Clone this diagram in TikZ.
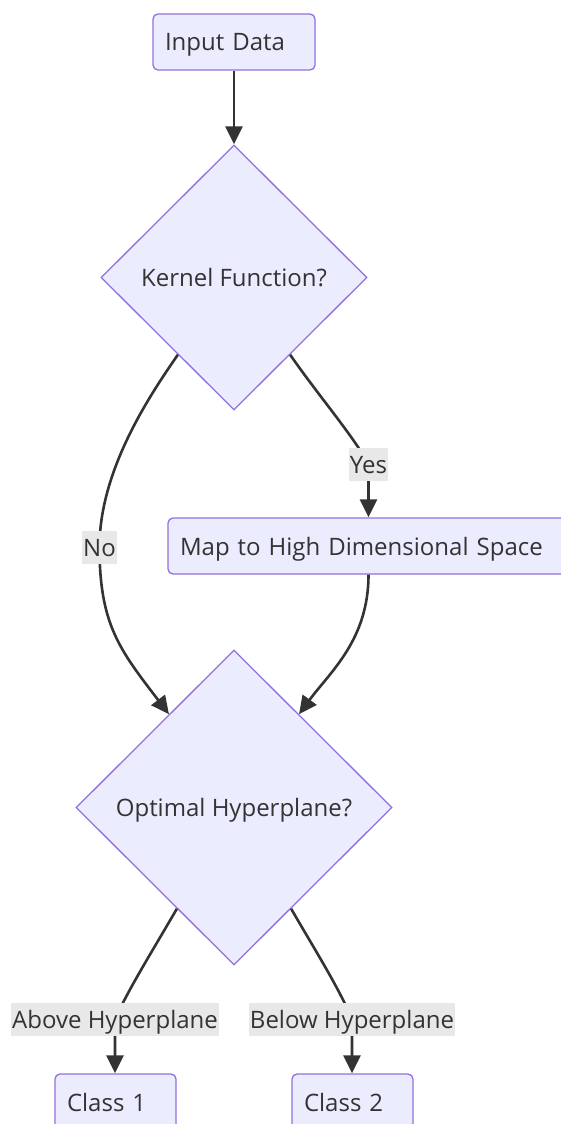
\documentclass[tikz,border=0pt]{standalone}
\usepackage{fontspec}
\setmainfont{Open Sans}
\usetikzlibrary{shapes.geometric,arrows.meta,calc}
\definecolor{nodefill}{HTML}{ECECFF}
\definecolor{nodeline}{HTML}{9370DB}
\definecolor{ink}{HTML}{333333}
\definecolor{lblbg}{HTML}{E8E8E8}

\begin{document}
\begin{tikzpicture}[x=1pt,y=-1pt,
  every node/.style={font=\fontsize{24}{29}\selectfont, text=ink, text height=22pt, text depth=4pt},
  procbox/.style={draw=nodeline, fill=nodefill, line width=1.3pt, rounded corners=5pt,
                  minimum height=56pt, inner xsep=12pt, inner ysep=0pt, align=left},
  decision/.style={diamond, draw=nodeline, fill=nodefill, line width=1.3pt, inner sep=0pt},
  edgelbl/.style={fill=lblbg, inner xsep=1pt, inner ysep=0pt, minimum height=33pt},
  flow/.style={draw=ink, line width=2.6pt, -{Triangle[length=18pt,width=17pt]}}
]
\useasboundingbox (0,0) rectangle (560,1124);

% process boxes
\node[procbox, text width=138pt] (input) at (234,42) {Input Data};
\node[procbox, text width=390pt] (map) at (375,546) {Map to High Dimensional Space};
\node[procbox, text width=97pt] (c1) at (115.5,1102) {Class 1};
\node[procbox, text width=97pt] (c2) at (352.5,1102) {Class 2};

% decisions
\node[decision, minimum width=266pt, minimum height=265pt] (kern) at (234,277.5) {Kernel Function?};
\node[decision, minimum width=316pt, minimum height=315pt] (opt) at (234,807.5) {Optimal Hyperplane?};

% label anchors on the connectors
\coordinate (noc) at (99.5,547);
\coordinate (yesc) at (368.5,464.5);
\coordinate (abovec) at (115,1019.5);
\coordinate (belowc) at (352,1019.5);

% connectors
\draw[flow] (input.south) -- (kern.north);
\draw[flow] ($(kern.west)!0.58!(kern.south)$) .. controls (150,395) and (99.5,470) .. (noc)
            .. controls (99.5,625) and (120,650) .. ($(opt.north)!0.41!(opt.west)$);
\draw[flow] ($(kern.east)!0.58!(kern.south)$) .. controls (318,395) and (355,438) .. (yesc)
            .. controls (368.5,490) .. (yesc |- map.north);
\draw[flow] (yesc |- map.south) .. controls (368.5,640) and (330,672) .. ($(opt.north)!0.41!(opt.east)$);
\draw[flow] ($(opt.west)!0.64!(opt.south)$) .. controls (150,955) and (128,990) .. (abovec)
            .. controls (115,1045) .. (abovec |- c1.north);
\draw[flow] ($(opt.east)!0.64!(opt.south)$) .. controls (318,955) and (340,990) .. (belowc)
            .. controls (352,1045) .. (belowc |- c2.north);

% connector labels
\node[edgelbl] (no) at (noc) {No};
\node[edgelbl] (yes) at (yesc) {Yes};
\node[edgelbl] (above) at (abovec) {Above Hyperplane};
\node[edgelbl] (below) at (belowc) {Below Hyperplane};
\end{tikzpicture}
\end{document}
